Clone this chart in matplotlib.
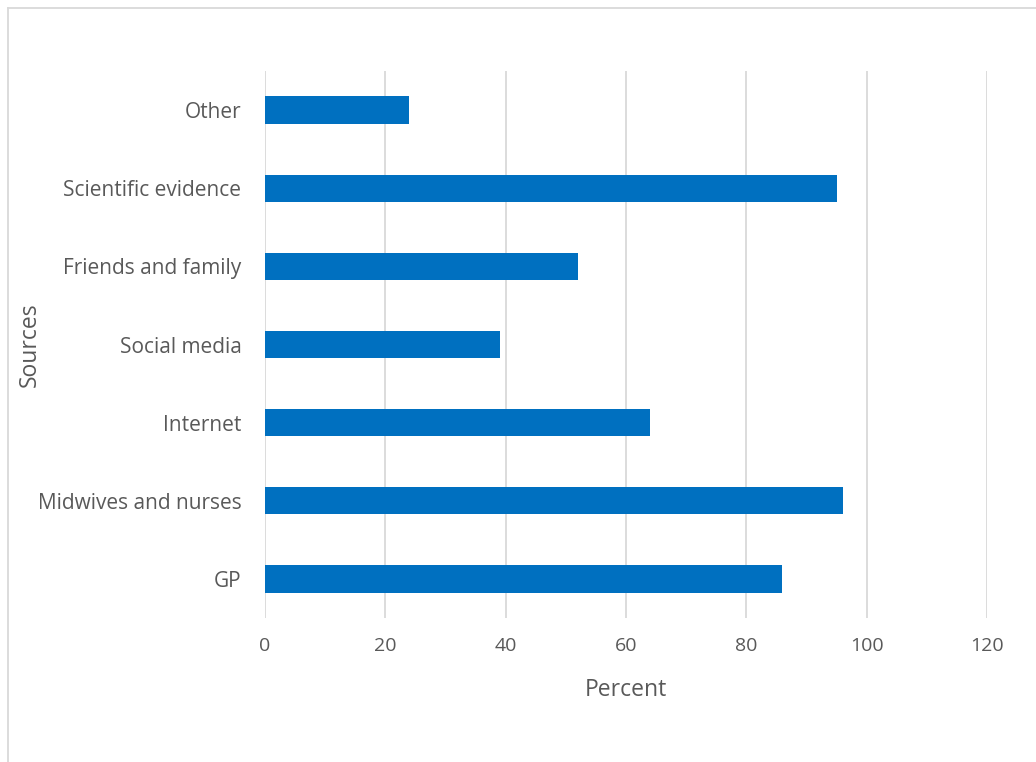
import matplotlib.pyplot as plt
from matplotlib.lines import Line2D

# data
sources = ['GP', 'Midwives and nurses', 'Internet', 'Social media',
           'Friends and family', 'Scientific evidence', 'Other']
percent = [86, 96, 64, 39, 52, 95, 24]
x_ticks = [0, 20, 40, 60, 80, 100, 120]

plt.rcParams['font.family'] = ['Open Sans', 'DejaVu Sans']
text_color = '#595959'

fig = plt.figure(figsize=(10.36, 7.62), dpi=100)
ax = fig.add_axes([0.2558, 0.189, 0.6969, 0.7178])

ax.barh(sources, percent, height=0.35, color='#0070C0', zorder=3)

ax.set_xlim(0, 120)
ax.set_ylim(-0.5, len(sources) - 0.5)
ax.set_xticks(x_ticks)
ax.grid(True, axis='x', color='#D9D9D9', linewidth=1.3, zorder=0)
for s in ax.spines.values():
    s.set_visible(False)
ax.tick_params(length=0, labelcolor=text_color)
ax.tick_params(axis='y', pad=17, labelsize=15)
ax.tick_params(axis='x', pad=14, labelsize=14)

ax.set_xlabel('Percent', fontsize=16.5, color=text_color, labelpad=16)
ax.set_ylabel('Sources', fontsize=16.5, color=text_color)
ax.yaxis.set_label_coords(-0.309, 0.5)

# outer chart border (left and top visible)
fig.add_artist(Line2D([8 / 1036, 8 / 1036], [0, 1 - 8 / 762],
                      transform=fig.transFigure, color='#D9D9D9', lw=1.3))
fig.add_artist(Line2D([8 / 1036, 1], [1 - 8 / 762, 1 - 8 / 762],
                      transform=fig.transFigure, color='#D9D9D9', lw=1.3))

plt.savefig('out.png', dpi=100)
